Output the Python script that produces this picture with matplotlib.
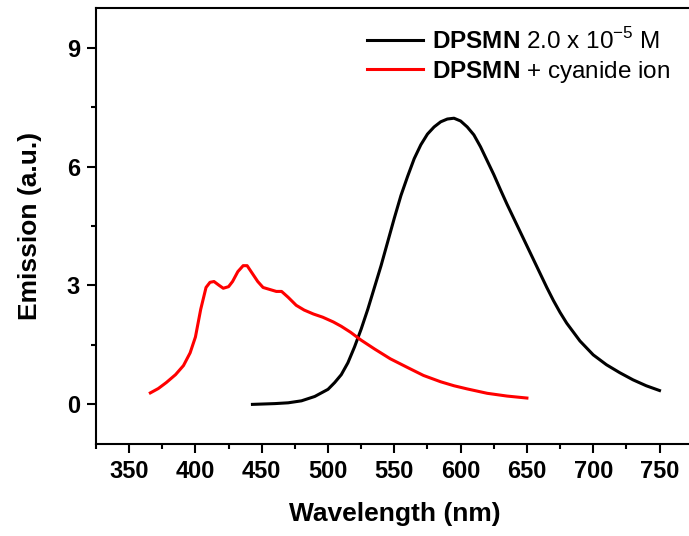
import matplotlib
matplotlib.use("Agg")
import matplotlib.pyplot as plt
from matplotlib.ticker import MultipleLocator

plt.rcParams['font.family'] = ['Liberation Sans', 'DejaVu Sans']
plt.rcParams['mathtext.fontset'] = 'custom'
plt.rcParams['mathtext.rm'] = 'Liberation Sans'
plt.rcParams['mathtext.bf'] = 'Liberation Sans:bold'

# DPSMN alone (black)
wl_free = [443, 460, 470, 480, 490, 500, 505, 510, 515, 520, 525, 530, 535, 540, 545,
           550, 555, 560, 565, 570, 575, 580, 585, 590, 595, 600, 605, 610, 615, 620,
           625, 630, 635, 640, 645, 650, 655, 660, 665, 670, 675, 680, 690, 700, 710,
           720, 730, 740, 750]
em_free = [0.0, 0.02, 0.04, 0.09, 0.2, 0.38, 0.55, 0.75, 1.05, 1.45, 1.9, 2.4, 2.95, 3.5, 4.1,
           4.7, 5.27, 5.75, 6.2, 6.55, 6.82, 7.0, 7.13, 7.2, 7.22, 7.15, 7.0, 6.8, 6.5, 6.15,
           5.8, 5.42, 5.05, 4.7, 4.35, 4.0, 3.65, 3.3, 2.95, 2.62, 2.32, 2.05, 1.6, 1.25, 1.0,
           0.8, 0.62, 0.47, 0.35]

# DPSMN + cyanide (red)
wl_cn = [366, 372, 378, 385, 391, 396, 400, 404, 408, 411, 414, 418, 421, 425, 428,
         432, 436, 439, 443, 447, 451, 456, 461, 465, 470, 476, 482, 489, 496, 504,
         510, 517, 525, 535, 547, 560, 572, 585, 595, 605, 620, 635, 650]
em_cn = [0.29, 0.4, 0.55, 0.75, 0.98, 1.3, 1.7, 2.4, 2.95, 3.08, 3.1, 3.0, 2.93, 2.97, 3.1,
         3.35, 3.5, 3.5, 3.3, 3.1, 2.95, 2.9, 2.85, 2.85, 2.7, 2.5, 2.38, 2.28, 2.2, 2.08,
         1.97, 1.82, 1.62, 1.4, 1.15, 0.93, 0.73, 0.57, 0.47, 0.39, 0.28, 0.21, 0.16]

fig = plt.figure(figsize=(6.89, 5.36), dpi=100)
ax = fig.add_axes([0.1393, 0.1716, 0.866, 0.8134])

ax.plot(wl_free, em_free, color='black', lw=2.2, label=r'$\bf{DPSMN}$ 2.0 x 10$^{-5}$ M')
ax.plot(wl_cn, em_cn, color='red', lw=2.2, label=r'$\bf{DPSMN}$ + cyanide ion')

ax.set_xlim(325, 775)
ax.set_ylim(-1, 10)
ax.xaxis.set_major_locator(MultipleLocator(50))
ax.xaxis.set_minor_locator(MultipleLocator(25))
ax.yaxis.set_major_locator(MultipleLocator(3))
ax.yaxis.set_minor_locator(MultipleLocator(1.5))
ax.tick_params(which='major', direction='out', length=6.5, width=1.5, labelsize=17, pad=5)
ax.tick_params(which='minor', direction='out', length=3.5, width=1.5)
for lab in ax.get_xticklabels() + ax.get_yticklabels():
    lab.set_fontweight('bold')
for s in ax.spines.values():
    s.set_linewidth(1.5)

ax.set_xlabel('Wavelength (nm)', fontsize=19, fontweight='bold', labelpad=14)
ax.set_ylabel('Emission (a.u.)', fontsize=19, fontweight='bold', labelpad=18)

ax.legend(loc='upper left', bbox_to_anchor=(0.454, 0.954), frameon=False, fontsize=17.5,
          borderpad=0, borderaxespad=0, handlelength=2.3, handletextpad=0.38,
          labelspacing=0.2)

fig.savefig('out.png', dpi=100)
